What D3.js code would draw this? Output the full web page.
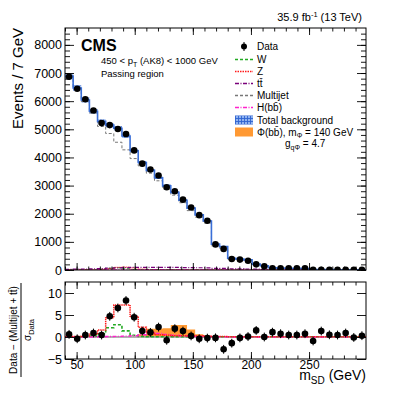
<!DOCTYPE html>
<html>
<head>
<meta charset="utf-8">
<script src="https://cdn.jsdelivr.net/npm/d3@7"></script>
<style>
  body { margin: 0; background: #fff; }
  text { font-family: "Liberation Sans", Arial, Helvetica, sans-serif; fill: #000; }
</style>
</head>
<body>
<svg id="mainsvg" width="407" height="395"></svg>
<script>
// bins: 7 GeV wide, 40 -> 299 GeV
const binLow = d3.range(40, 299, 7);
const binWidth = 7;

// upper panel (events / bin)
const dataCounts = [6870, 6440, 6070, 5670, 5220, 5150, 5010, 4830, 4250, 3780, 3570, 3360, 2940, 2800, 2500, 2220, 1950, 1750, 910, 750, 390, 370, 330, 200, 130, 60, 60, 60, 60, 60, 8, 8, 8, 8, 8, 8, 8];
const totalBkg = [6890, 6470, 6040, 5640, 5280, 5150, 5040, 4760, 4240, 3820, 3540, 3280, 2990, 2760, 2480, 2200, 1960, 1740, 920, 830, 420, 390, 360, 210, 150, 80, 65, 60, 60, 55, 15, 12, 12, 10, 10, 8, 8];
const multijet = [6850, 6430, 5990, 5580, 5100, 4850, 4540, 4270, 3960, 3700, 3440, 3170, 2880, 2660, 2390, 2110, 1880, 1670, 860, 775, 375, 350, 325, 180, 125, 60, 48, 45, 45, 42, 8, 6, 6, 5, 5, 4, 4];
const ttbar = [25, 30, 35, 40, 50, 65, 75, 85, 90, 95, 95, 95, 95, 90, 85, 85, 80, 75, 60, 55, 45, 40, 35, 30, 25, 20, 17, 15, 13, 12, 7, 6, 6, 5, 5, 4, 4];
const wUpper = [2, 3, 4, 8, 25, 60, 80, 45, 15, 6, 4, 3, 3, 3, 2, 2, 2, 2, 1, 1, 1, 1, 1, 1, 1, 1, 1, 1, 1, 1, 0, 0, 0, 0, 0, 0, 0];
const zUpper = [3, 3, 4, 8, 20, 50, 90, 100, 75, 35, 15, 10, 8, 6, 5, 4, 4, 3, 3, 2, 2, 2, 1, 1, 1, 1, 1, 1, 1, 1, 0, 0, 0, 0, 0, 0, 0];
const hUpper = [0, 0, 0, 0, 1, 2, 3, 4, 6, 10, 14, 12, 9, 6, 4, 3, 2, 1, 1, 1, 0, 0, 0, 0, 0, 0, 0, 0, 0, 0, 0, 0, 0, 0, 0, 0, 0];

// lower panel (in units of sigma_data)
const pull = [0.6, -0.4, 0.45, 0.9, 0.45, 4.7, 6.6, 8.3, 4.5, 1.35, 1.05, 2.25, -0.75, 1.9, 1.35, 0.25, -0.4, -0.25, -0.2, -2.8, -1.4, -0.2, 0.1, 1.5, 0.0, 1.1, 0.75, 0.45, 0.45, 0.75, -0.9, 1.35, 0.5, 0.45, 0.9, -0.1, 0.3];
const wPull = [0.05, 0.05, 0.05, 0.2, 0.7, 2.1, 2.8, 1.4, 0.4, 0.1, 0.05, 0.05, 0.05, 0.05, 0.05, 0.05, 0.05, 0.05, 0.05, 0.05, 0.05, 0.05, 0.05, 0.05, 0.05, 0.05, 0.05, 0.05, 0.05, 0.05, 0.05, 0.05, 0.05, 0.05, 0.05, 0.05, 0.05];
const zPull = [0.1, 0.1, 0.2, 0.6, 1.6, 4.4, 7.3, 7.3, 4.7, 2.2, 1.0, 0.5, 0.4, 0.3, 0.3, 0.2, 0.2, 0.1, 0.1, 0.1, 0.05, 0.05, 0.05, 0.05, 0.05, 0.05, 0.05, 0.05, 0.05, 0.05, 0.05, 0.05, 0.05, 0.05, 0.05, 0.05, 0.05];
const hPull = [0, 0, 0, 0, 0.05, 0.1, 0.15, 0.2, 0.3, 0.5, 1.0, 0.8, 0.6, 0.4, 0.3, 0.2, 0.1, 0.1, 0.05, 0.05, 0, 0, 0, 0, 0, 0, 0, 0, 0, 0, 0, 0, 0, 0, 0, 0, 0];
const phiPull = [0, 0, 0, 0, 0, 0, 0, 0, 0.05, 0.6, 1.9, 1.9, 2.0, 2.7, 2.7, 1.7, 0.6, 0.4, 0.25, 0.15, 0.05, 0, 0, 0, 0, 0, 0, 0, 0, 0, 0, 0, 0, 0, 0, 0, 0];

// ticks
const xMajor = [50, 100, 150, 200, 250];
const xMinor = d3.range(40, 300, 10);
const yMajor = [0, 1000, 2000, 3000, 4000, 5000, 6000, 7000, 8000];
const yMinor = d3.range(0, 8600, 200);
const pullMajor = [-5, 0, 5, 10];

const svg = d3.select('#mainsvg');
const width = +svg.attr('width');
const height = +svg.attr('height');

const frame = { left: 65, right: 366, top: 28, mid: 270, lowTop: 282, bottom: 359 };

const x = d3.scaleLinear().domain([40, 299]).range([frame.left, frame.right]);
const y = d3.scaleLinear().domain([0, 8600]).range([frame.mid, frame.top]);
const yp = d3.scaleLinear().domain([-5, 12.5]).range([frame.bottom, frame.lowTop]);

svg.append('rect').attr('width', width).attr('height', height).attr('fill', '#fff');

// hatch for total background
const defs = svg.append('defs');
const pat = defs.append('pattern').attr('id', 'hatch').attr('patternUnits', 'userSpaceOnUse')
  .attr('width', 3).attr('height', 3);
pat.append('rect').attr('width', 3).attr('height', 3).attr('fill', '#8fb3f0');
pat.append('path').attr('d', 'M0,1.5H3M1.5,0V3').attr('stroke', '#2f63d0').attr('stroke-width', 0.9);

const stepPts = vals => vals.flatMap((v, i) => [[binLow[i], v], [binLow[i] + binWidth, v]]);

function stepLine(g, vals, sy, color, dash, w) {
  g.append('path')
    .datum(stepPts(vals))
    .attr('d', d3.line().x(d => x(d[0])).y(d => sy(d[1])))
    .attr('fill', 'none')
    .attr('stroke', color)
    .attr('stroke-width', w)
    .attr('stroke-dasharray', dash);
}

// ---------------- upper panel ----------------
const up = svg.append('g');
up.append('clipPath').attr('id', 'clipUp').append('rect')
  .attr('x', frame.left).attr('y', frame.top)
  .attr('width', frame.right - frame.left).attr('height', frame.mid - frame.top);
const upPlot = up.append('g').attr('clip-path', 'url(#clipUp)');

// uncertainty band
upPlot.append('path')
  .datum(stepPts(totalBkg))
  .attr('d', d3.area().x(d => x(d[0])).y0(d => y(d[1] * 0.985)).y1(d => y(d[1] * 1.015)))
  .attr('fill', 'url(#hatch)')
  .attr('opacity', 0.8);

stepLine(upPlot, multijet, y, '#777', '3,2', 1);
stepLine(upPlot, wUpper, y, '#22aa22', '3,2', 1.2);
stepLine(upPlot, zUpper, y, '#ff2020', '1,1', 1.2);
stepLine(upPlot, hUpper, y, '#ff22cc', '4,1.5,1,1.5', 1.2);
stepLine(upPlot, ttbar, y, '#7a007a', '4,1.5,1,1.5', 1.2);
stepLine(upPlot, totalBkg, y, '#3a6fd8', null, 1.6);

upPlot.selectAll('circle.data')
  .data(dataCounts)
  .join('circle')
  .attr('class', 'data')
  .attr('cx', (d, i) => x(binLow[i] + binWidth / 2))
  .attr('cy', d => y(d))
  .attr('r', 3.3)
  .attr('fill', '#000');

// axes upper
function noDomain(g) { g.select('.domain').remove(); return g; }

up.append('g').attr('transform', `translate(${frame.left},0)`)
  .call(d3.axisLeft(y).tickValues(yMajor).tickSize(-9).tickPadding(3).tickFormat(d3.format('d')))
  .call(noDomain)
  .call(g => g.selectAll('text').attr('font-size', 12.5).attr('font-family', null));
up.append('g').attr('transform', `translate(${frame.left},0)`)
  .call(d3.axisLeft(y).tickValues(yMinor).tickSize(-5).tickFormat(''))
  .call(noDomain);
up.append('g').attr('transform', `translate(${frame.right},0)`)
  .call(d3.axisRight(y).tickValues(yMajor).tickSize(-9).tickFormat(''))
  .call(noDomain);
up.append('g').attr('transform', `translate(${frame.right},0)`)
  .call(d3.axisRight(y).tickValues(yMinor).tickSize(-5).tickFormat(''))
  .call(noDomain);
up.append('g').attr('transform', `translate(0,${frame.mid})`)
  .call(d3.axisBottom(x).tickValues(xMajor).tickSize(-7).tickFormat(''))
  .call(noDomain);
up.append('g').attr('transform', `translate(0,${frame.mid})`)
  .call(d3.axisBottom(x).tickValues(xMinor).tickSize(-3.5).tickFormat(''))
  .call(noDomain);
up.append('g').attr('transform', `translate(0,${frame.top})`)
  .call(d3.axisTop(x).tickValues(xMajor).tickSize(-7).tickFormat(''))
  .call(noDomain);
up.append('g').attr('transform', `translate(0,${frame.top})`)
  .call(d3.axisTop(x).tickValues(xMinor).tickSize(-3.5).tickFormat(''))
  .call(noDomain);
up.selectAll('.tick line').attr('stroke', '#000').attr('stroke-width', 0.9);

up.append('rect')
  .attr('x', frame.left).attr('y', frame.top)
  .attr('width', frame.right - frame.left).attr('height', frame.mid - frame.top)
  .attr('fill', 'none').attr('stroke', '#000').attr('stroke-width', 1);

// ---------------- lower panel ----------------
const lo = svg.append('g');
lo.append('clipPath').attr('id', 'clipLo').append('rect')
  .attr('x', frame.left).attr('y', frame.lowTop)
  .attr('width', frame.right - frame.left).attr('height', frame.bottom - frame.lowTop);
const loPlot = lo.append('g').attr('clip-path', 'url(#clipLo)');

loPlot.append('path')
  .datum(stepPts(phiPull))
  .attr('d', d3.area().x(d => x(d[0])).y0(yp(0)).y1(d => yp(d[1])))
  .attr('fill', '#ff9933');

loPlot.append('line')
  .attr('x1', frame.left).attr('x2', frame.right)
  .attr('y1', yp(0)).attr('y2', yp(0))
  .attr('stroke', '#999').attr('stroke-width', 1.5);

stepLine(loPlot, wPull, yp, '#22aa22', '3,2', 1.6);
stepLine(loPlot, hPull, yp, '#ff22cc', '4,1.5,1,1.5', 1.4);
stepLine(loPlot, zPull, yp, '#ff1a1a', '1.4,0.8', 1.5);

const pts = loPlot.append('g');
pts.selectAll('line')
  .data(pull)
  .join('line')
  .attr('x1', (d, i) => x(binLow[i] + binWidth / 2))
  .attr('x2', (d, i) => x(binLow[i] + binWidth / 2))
  .attr('y1', d => yp(d - 1))
  .attr('y2', d => yp(d + 1))
  .attr('stroke', '#000').attr('stroke-width', 1);
pts.selectAll('circle')
  .data(pull)
  .join('circle')
  .attr('cx', (d, i) => x(binLow[i] + binWidth / 2))
  .attr('cy', d => yp(d))
  .attr('r', 3.3)
  .attr('fill', '#000');

lo.append('g').attr('transform', `translate(${frame.left},0)`)
  .call(d3.axisLeft(yp).tickValues(pullMajor).tickSize(-9).tickPadding(3).tickFormat(d => d < 0 ? '\u2212' + Math.abs(d) : d))
  .call(noDomain)
  .call(g => g.selectAll('text').attr('font-size', 12.5).attr('font-family', null));
lo.append('g').attr('transform', `translate(${frame.right},0)`)
  .call(d3.axisRight(yp).tickValues(pullMajor).tickSize(-9).tickFormat(''))
  .call(noDomain);
lo.append('g').attr('transform', `translate(0,${frame.bottom})`)
  .call(d3.axisBottom(x).tickValues(xMajor).tickSize(-7).tickPadding(1).tickFormat(d3.format('d')))
  .call(noDomain)
  .call(g => g.selectAll('text').attr('font-size', 12).attr('font-family', null));
lo.append('g').attr('transform', `translate(0,${frame.bottom})`)
  .call(d3.axisBottom(x).tickValues(xMinor).tickSize(-3.5).tickFormat(''))
  .call(noDomain);
lo.append('g').attr('transform', `translate(0,${frame.lowTop})`)
  .call(d3.axisTop(x).tickValues(xMajor).tickSize(-7).tickFormat(''))
  .call(noDomain);
lo.append('g').attr('transform', `translate(0,${frame.lowTop})`)
  .call(d3.axisTop(x).tickValues(xMinor).tickSize(-3.5).tickFormat(''))
  .call(noDomain);
lo.selectAll('.tick line').attr('stroke', '#000').attr('stroke-width', 0.9);

lo.append('rect')
  .attr('x', frame.left).attr('y', frame.lowTop)
  .attr('width', frame.right - frame.left).attr('height', frame.bottom - frame.lowTop)
  .attr('fill', 'none').attr('stroke', '#000').attr('stroke-width', 1);

// ---------------- texts ----------------
const t1 = svg.append('text').attr('x', 362).attr('y', 21).attr('text-anchor', 'end').attr('font-size', 11);
t1.append('tspan').text('35.9 fb');
t1.append('tspan').attr('dy', -4).attr('font-size', 7.5).text('-1');
t1.append('tspan').attr('dy', 4).text(' (13 TeV)');

svg.append('text').attr('x', 81).attr('y', 51).attr('font-size', 16).attr('font-weight', 'bold').text('CMS');

const t2 = svg.append('text').attr('x', 101).attr('y', 64).attr('font-size', 9.5);
t2.append('tspan').text('450 < p');
t2.append('tspan').attr('dy', 2.5).attr('font-size', 7).text('T');
t2.append('tspan').attr('dy', -2.5).text(' (AK8) < 1000 GeV');
svg.append('text').attr('x', 101).attr('y', 77).attr('font-size', 9.5).text('Passing region');

svg.append('text')
  .attr('transform', 'translate(23,28) rotate(-90)')
  .attr('text-anchor', 'end').attr('font-size', 15)
  .text('Events / 7 GeV');

// pull axis title as a fraction
const fy = 330;
svg.append('text')
  .attr('transform', `translate(17,${fy}) rotate(-90)`)
  .attr('text-anchor', 'middle').attr('font-size', 10)
  .text('Data \u2212 (Multijet + tt\u0304)');
svg.append('line').attr('x1', 21).attr('x2', 21).attr('y1', 283).attr('y2', 377)
  .attr('stroke', '#000').attr('stroke-width', 1);
const sg = svg.append('text')
  .attr('transform', `translate(31,${fy}) rotate(-90)`)
  .attr('text-anchor', 'middle').attr('font-size', 10);
sg.append('tspan').text('\u03c3');
sg.append('tspan').attr('dy', 3).attr('font-size', 7.5).text('Data');

const xt = svg.append('text').attr('x', 366).attr('y', 380).attr('text-anchor', 'end').attr('font-size', 14);
xt.append('tspan').text('m');
xt.append('tspan').attr('dy', 3.5).attr('font-size', 10).text('SD');
xt.append('tspan').attr('dy', -3.5).text(' (GeV)');

// ---------------- legend ----------------
const legendLabels = ['Data', 'W', 'Z', 'tt\u0304', 'Multijet', 'H(bb\u0304)', 'Total background'];
const legendRowY = [46.5, 59.5, 71.5, 83.5, 95.5, 107.5, 120];
const lg = svg.append('g');
const lx0 = 235, lx1 = 253, ltx = 257;

legendLabels.forEach((lab, i) => {
  const cy = legendRowY[i];
  if (i === 0) {
    lg.append('line').attr('x1', 244).attr('x2', 244).attr('y1', cy - 4.5).attr('y2', cy + 4.5).attr('stroke', '#000');
    lg.append('circle').attr('cx', 244).attr('cy', cy).attr('r', 3).attr('fill', '#000');
  } else if (i === 6) {
    lg.append('rect').attr('x', lx0).attr('y', cy - 4.5).attr('width', lx1 - lx0).attr('height', 9).attr('fill', 'url(#hatch)');
  } else {
    const styles = [null, ['#22aa22', '3,2'], ['#ff1a1a', '1.5,1'], ['#7a007a', '4,1.5,1,1.5'], ['#777', '3,2'], ['#ff22cc', '4,1.5,1,1.5']];
    lg.append('line').attr('x1', lx0).attr('x2', lx1).attr('y1', cy).attr('y2', cy)
      .attr('stroke', styles[i][0]).attr('stroke-dasharray', styles[i][1]).attr('stroke-width', 1.5);
  }
  lg.append('text').attr('x', ltx).attr('y', cy + 3.6).attr('font-size', 10).text(lab);
});

const phiY = 132;
lg.append('rect').attr('x', lx0).attr('y', phiY - 4.5).attr('width', lx1 - lx0).attr('height', 9).attr('fill', '#ff9933');
const lp = lg.append('text').attr('x', ltx).attr('y', phiY + 3.6).attr('font-size', 10);
lp.append('tspan').text('\u03a6(bb\u0304), m');
lp.append('tspan').attr('dy', 2.5).attr('font-size', 7).text('\u03a6');
lp.append('tspan').attr('dy', -2.5).text(' = 140 GeV');
const lgq = lg.append('text').attr('x', 285).attr('y', 147).attr('font-size', 10);
lgq.append('tspan').text('g');
lgq.append('tspan').attr('dy', 2.5).attr('font-size', 7).text('q\u03a6');
lgq.append('tspan').attr('dy', -2.5).text(' = 4.7');
</script>
</body>
</html>
